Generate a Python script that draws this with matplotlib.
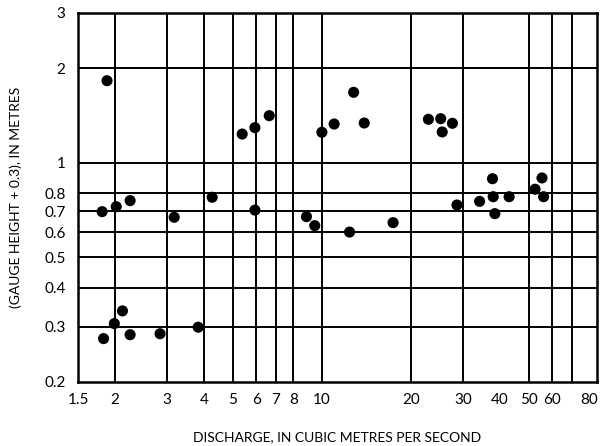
import matplotlib
matplotlib.use("Agg")
from matplotlib import pyplot as plt
from matplotlib.ticker import FixedLocator, FixedFormatter, NullLocator

# -------------------- Data --------------------
discharge = [1.88, 1.81, 2.02, 2.25, 3.17, 4.26,
             1.83, 1.99, 2.12, 2.25, 2.84, 3.82,
             5.38, 5.94, 6.64, 5.94,
             8.87, 9.46, 12.4, 10.0, 11.0, 12.8, 13.9, 17.4,
             22.9, 25.2, 27.6, 25.5,
             28.6, 34.1, 37.7, 37.9, 38.4, 42.9, 55.4, 52.5, 56.1]
gauge = [1.825, 0.698, 0.724, 0.757, 0.670, 0.776,
         0.275, 0.307, 0.337, 0.283, 0.285, 0.299,
         1.234, 1.293, 1.412, 0.706,
         0.673, 0.630, 0.601, 1.250, 1.328, 1.676, 1.338, 0.644,
         1.375, 1.381, 1.335, 1.253,
         0.733, 0.753, 0.889, 0.779, 0.688, 0.779, 0.894, 0.823, 0.779]

x_ticks = [1.5, 2, 3, 4, 5, 6, 7, 8, 10, 20, 30, 40, 50, 60, 80]
x_tick_labels = ["1.5", "2", "3", "4", "5", "6", "7", "8", "10",
                 "20", "30", "40", "50", "60", "80"]
y_ticks = [0.2, 0.3, 0.4, 0.5, 0.6, 0.7, 0.8, 1, 2, 3]
y_tick_labels = ["0.2", "0.3", "0.4", "0.5", "0.6", "0.7", "0.8", "1", "2", "3"]

# grid lines drawn in the original (no line at 40 or 80, one at 70)
grid_x = [2, 3, 4, 5, 6, 7, 8, 10, 20, 30, 50, 60, 70]
grid_y = [0.3, 0.4, 0.5, 0.6, 0.7, 0.8, 1, 2]

# -------------------- Plot --------------------
plt.rcParams["font.family"] = ["Lato", "DejaVu Sans"]

fig = plt.figure(figsize=(6.05, 4.46), dpi=100)
ax = fig.add_axes([0.1289, 0.1435, 0.8579, 0.8274])

ax.set_xscale("log")
ax.set_yscale("log")
ax.set_xlim(1.5, 85)
ax.set_ylim(0.2, 3)

for gx in grid_x:
    ax.axvline(gx, color="black", lw=1.4, zorder=1)
for gy in grid_y:
    ax.axhline(gy, color="black", lw=1.4, zorder=1)

ax.scatter(discharge, gauge, s=64, color="black", edgecolors="none", zorder=3)

ax.xaxis.set_major_locator(FixedLocator(x_ticks))
ax.xaxis.set_major_formatter(FixedFormatter(x_tick_labels))
ax.xaxis.set_minor_locator(NullLocator())
ax.yaxis.set_major_locator(FixedLocator(y_ticks))
ax.yaxis.set_major_formatter(FixedFormatter(y_tick_labels))
ax.yaxis.set_minor_locator(NullLocator())
ax.tick_params(axis="x", length=0, pad=8, labelsize=11)
ax.tick_params(axis="y", length=0, pad=9, labelsize=11)

for side in ax.spines.values():
    side.set_linewidth(1.8)

ax.set_xlabel("DISCHARGE, IN CUBIC METRES PER SECOND", fontsize=10, labelpad=17)
ax.set_ylabel("(GAUGE HEIGHT + 0.3), IN METRES", fontsize=10, labelpad=16)

fig.savefig("out.png", dpi=100)
